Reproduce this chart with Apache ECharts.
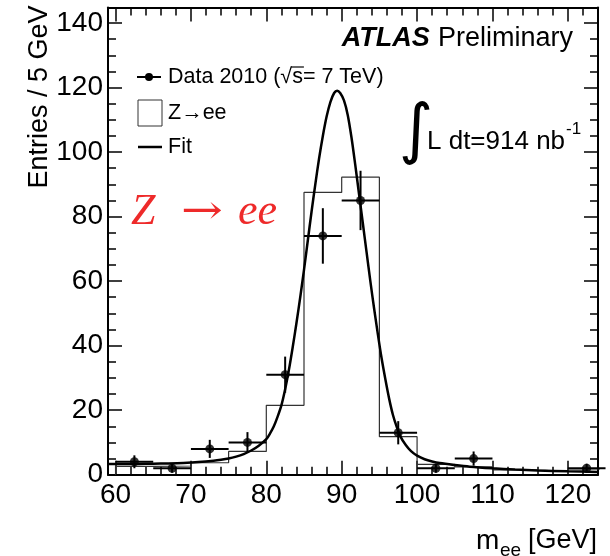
<!DOCTYPE html>
<html><head><meta charset="utf-8">
<script src="https://cdn.jsdelivr.net/npm/echarts@6/dist/echarts.min.js"></script>
<style>html,body{margin:0;padding:0;background:#fff}#c{width:610px;height:556px}</style>
</head><body><div id="c"></div>
<script>
// ---- data ----
const binEdges   = [60,65,70,75,80,85,90,95,100,105,110,115,120,125];
const dataValues = [4,2,8,10,31,74,85,13,2,5,null,null,2];
const dataErrors = [2.0,1.4,2.8,3.2,5.6,8.6,9.2,3.6,1.4,2.2,null,null,1.4];
const mcValues   = [2.6,2.7,3.7,7.2,21.5,87.5,92.2,11.8,3.2,2.4,1.5,1.0,1.8];
const fitX = [59,61,63,65,67,69,71,73,74,75,76,77,78,79,80,80.5,81,81.5,82,82.5,83,83.5,84,84.5,85,85.5,86,86.5,87,87.5,88,88.5,89,89.4,89.8,90.3,90.8,91.3,91.8,92.3,92.8,93.3,93.8,94.3,94.8,95.3,95.8,96.3,96.8,97.3,97.8,98.5,99.2,100,101,102,103,105,107,110,113,116,120,124];
const fitY = [3.3,3.3,3.35,3.4,3.5,3.65,3.9,4.3,4.6,5.0,5.6,6.4,7.5,9.0,11.0,12.8,15,18,21.5,26.5,32.5,39.5,47,55,63.5,72.5,81.5,90,98,105,111,115.5,118.3,119,118.3,116,111.5,104.5,96,87,78,69,60,51.5,43.5,36,29.5,23.5,18.5,14.8,11.8,9.2,7.3,5.9,4.8,4.1,3.6,3.0,2.5,2.0,1.6,1.3,1.05,0.85];
const xTickLabels = ['60','70','80','90','100','110','120'];
const yTickLabels = ['0','20','40','60','80','100','120','140'];

// ---- build ----
const FONT = 'Liberation Sans, Arial, Helvetica, sans-serif';
const pts = [];
for (let i = 0; i < dataValues.length; i++) {
  if (dataValues[i] == null) continue;
  pts.push([(binEdges[i] + binEdges[i+1]) / 2, dataValues[i], dataErrors[i], binEdges[i], binEdges[i+1]]);
}
const mcStep = [[binEdges[0], 0]];
for (let i = 0; i < mcValues.length; i++) mcStep.push([binEdges[i], mcValues[i]]);
mcStep.push([binEdges[binEdges.length-1], mcValues[mcValues.length-1]]);
const fitData = fitX.map((x, i) => [x, fitY[i]]);

function axisX(pos, showLabel) {
  return {
    type: 'value', min: 59, max: 124, position: pos,
    axisLine: {show: true, onZero: false, lineStyle: {color: '#000', width: 2}},
    axisTick: {show: true, inside: true, length: 14, lineStyle: {color: '#000', width: 1.5}},
    minorTick: {show: true, splitNumber: 5, length: 8, lineStyle: {color: '#000', width: 1.5}},
    axisLabel: {show: showLabel, fontSize: 28, color: '#000', fontFamily: FONT, margin: 7,
      formatter: v => xTickLabels.indexOf(String(v)) >= 0 ? String(v) : ''},
    splitLine: {show: false}
  };
}
function axisY(pos, showLabel) {
  return {
    type: 'value', min: 0, max: 144.8, interval: 20, position: pos,
    axisLine: {show: true, onZero: false, lineStyle: {color: '#000', width: 2}},
    axisTick: {show: true, inside: true, length: 14, lineStyle: {color: '#000', width: 1.5}},
    minorTick: {show: true, splitNumber: 4, length: 8, lineStyle: {color: '#000', width: 1.5}},
    axisLabel: {show: showLabel, fontSize: 28, color: '#000', fontFamily: FONT, margin: 5,
      formatter: v => yTickLabels.indexOf(String(v)) >= 0 ? String(v) : ''},
    splitLine: {show: false}
  };
}

// measure for the sqrt overline
const mctx = document.createElement('canvas').getContext('2d');
mctx.font = '21.5px Liberation Sans';
const legX = 168;
const sStart = legX + mctx.measureText('Data 2010 (√').width;
const sEnd = legX + mctx.measureText('Data 2010 (√s').width;

const chart = echarts.init(document.getElementById('c'), null, {renderer: 'canvas'});
chart.setOption({
  animation: false,
  backgroundColor: '#fff',
  grid: {left: 108, right: 12, top: 7.5, bottom: 81.3, containLabel: false},
  xAxis: [axisX('bottom', true), axisX('top', false)],
  yAxis: [axisY('left', true), axisY('right', false)],
  series: [
    {type: 'line', name: 'MC', data: mcStep, step: 'end', showSymbol: false, symbol: 'none',
     lineStyle: {color: '#333', width: 1.2}, z: 2},
    {type: 'line', name: 'Fit', data: fitData, smooth: 0.3, showSymbol: false, symbol: 'none',
     lineStyle: {color: '#000', width: 2.5}, z: 3},
    {type: 'custom', name: 'err', data: pts, z: 4,
     renderItem: function (params, api) {
       const x = api.value(0), y = api.value(1), e = api.value(2), lo = api.value(3), hi = api.value(4);
       const l = api.coord([lo, y]), r = api.coord([hi, y]);
       const t = api.coord([x, y + e]), b = api.coord([x, Math.max(y - e, 0)]);
       return {type: 'group', children: [
         {type: 'line', shape: {x1: l[0], y1: l[1], x2: r[0], y2: r[1]}, style: {stroke: '#000', lineWidth: 2}},
         {type: 'line', shape: {x1: t[0], y1: t[1], x2: b[0], y2: b[1]}, style: {stroke: '#000', lineWidth: 2}}
       ]};
     }},
    {type: 'scatter', name: 'Data', data: pts.map(p => [p[0], p[1]]), symbol: 'circle', symbolSize: 9,
     itemStyle: {color: '#000'}, z: 5}
  ],
  graphic: [
    // y axis title
    {type: 'text', x: 40, y: 97, rotation: Math.PI / 2,
     style: {text: 'Entries / 5 GeV', fontSize: 27, fontFamily: FONT, fill: '#000', align: 'center', verticalAlign: 'middle'}},
    // x axis title
    {type: 'text', x: 476, y: 541, style: {text: 'm', fontSize: 28, fontFamily: FONT, fill: '#000', align: 'left', verticalAlign: 'middle'}},
    {type: 'text', x: 500, y: 551, style: {text: 'ee', fontSize: 19, fontFamily: FONT, fill: '#000', align: 'left', verticalAlign: 'middle'}},
    {type: 'text', x: 597, y: 541, style: {text: '[GeV]', fontSize: 27, fontFamily: FONT, fill: '#000', align: 'right', verticalAlign: 'middle'}},
    // ATLAS Preliminary
    {type: 'text', x: 573, y: 39, style: {text: '{b|ATLAS}{s| }{n|Preliminary}', align: 'right', verticalAlign: 'middle',
      rich: {b: {fontSize: 27, fontWeight: 'bold', fontStyle: 'italic', fontFamily: FONT, fill: '#000'},
             s: {fontSize: 30, fontFamily: FONT, fill: '#000'},
             n: {fontSize: 27, fontFamily: FONT, fill: '#000'}}}},
    // legend: data
    {type: 'line', shape: {x1: 137, y1: 77, x2: 161, y2: 77}, style: {stroke: '#000', lineWidth: 2}},
    {type: 'circle', shape: {cx: 149, cy: 77, r: 4}, style: {fill: '#000'}},
    {type: 'text', x: legX, y: 77, style: {text: 'Data 2010 (√s= 7 TeV)', fontSize: 21.5, fontFamily: FONT, fill: '#000', verticalAlign: 'middle'}},
    {type: 'line', shape: {x1: sStart - 1, y1: 67, x2: sEnd + 1, y2: 67}, style: {stroke: '#000', lineWidth: 1.2}},
    // legend: MC
    {type: 'rect', shape: {x: 138, y: 100, width: 24, height: 26}, style: {fill: '#fff', stroke: '#333', lineWidth: 1}},
    {type: 'text', x: legX, y: 113, style: {text: 'Z→ee', fontSize: 21.5, fontFamily: FONT, fill: '#000', verticalAlign: 'middle'}},
    // legend: fit
    {type: 'line', shape: {x1: 138, y1: 147, x2: 162, y2: 147}, style: {stroke: '#000', lineWidth: 2.5}},
    {type: 'text', x: legX, y: 147, style: {text: 'Fit', fontSize: 21.5, fontFamily: FONT, fill: '#000', verticalAlign: 'middle'}},
    // integral
    {type: 'text', x: 416, y: 134, style: {text: '∫', fontSize: 66, fontFamily: 'DejaVu Sans', fill: '#000', align: 'center', verticalAlign: 'middle'}},
    {type: 'text', x: 427, y: 142, style: {text: 'L dt=914 nb', fontSize: 26, fontFamily: FONT, fill: '#000', verticalAlign: 'middle'}},
    {type: 'text', x: 566, y: 129, style: {text: '-1', fontSize: 17, fontFamily: FONT, fill: '#000', verticalAlign: 'middle'}},
    // Z -> ee
    {type: 'text', x: 131, y: 212, style: {text: 'Z', fontSize: 44, fontStyle: 'italic', fontFamily: 'Liberation Serif, DejaVu Serif, serif', fill: '#ee2a2a', verticalAlign: 'middle'}},
    {type: 'text', x: 202, y: 213, scaleX: 1.25,
     style: {text: '→', fontSize: 40, fontFamily: 'DejaVu Serif, serif', fill: '#ee2a2a', align: 'center', verticalAlign: 'middle'}},
    {type: 'text', x: 238, y: 212, style: {text: 'ee', fontSize: 44, fontStyle: 'italic', fontFamily: 'Liberation Serif, DejaVu Serif, serif', fill: '#ee2a2a', verticalAlign: 'middle'}}
  ]
});
</script></body></html>
